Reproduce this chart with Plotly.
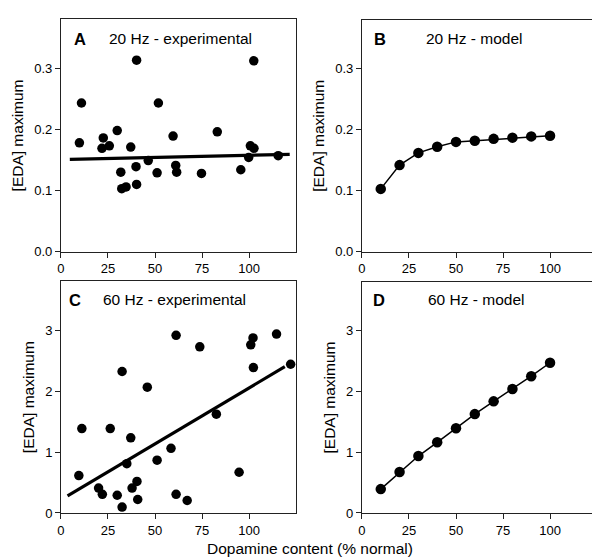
import plotly.graph_objects as go

# Panel A: 20 Hz experimental
a_x = [9.8, 10.9, 22.5, 21.8, 25.7, 29.9, 31.8, 32.3, 34.6, 37.1, 39.9, 40.2, 40.2, 46.4,
       51.1, 51.8, 59.6, 61.0, 61.5, 74.7, 83.1, 95.6, 99.8, 100.7, 102.6, 102.5, 115.5]
a_y = [0.178, 0.243, 0.186, 0.169, 0.173, 0.198, 0.130, 0.103, 0.106, 0.171, 0.139, 0.110, 0.313, 0.149,
       0.129, 0.243, 0.189, 0.141, 0.130, 0.128, 0.196, 0.134, 0.154, 0.173, 0.169, 0.312, 0.157]
a_fit_x = [4.7, 121.6]
a_fit_y = [0.151, 0.159]

# Panel B: 20 Hz model
model_x = [10, 20, 30, 40, 50, 60, 70, 80, 90, 100]
b_y = [0.103, 0.142, 0.162, 0.172, 0.180, 0.182, 0.185, 0.187, 0.189, 0.190]

# Panel C: 60 Hz experimental
c_x = [9.5, 11.1, 20.0, 22.0, 26.2, 29.9, 32.5, 32.5, 35.0, 37.1, 37.8, 40.4, 40.8, 45.9,
       51.1, 58.5, 61.2, 61.2, 67.1, 73.8, 82.6, 94.7, 100.9, 102.1, 102.3, 114.6, 122.1]
c_y = [0.614, 1.384, 0.409, 0.307, 1.384, 0.291, 0.097, 2.321, 0.808, 1.233, 0.409, 0.517, 0.221, 2.063,
       0.867, 1.061, 0.307, 2.914, 0.205, 2.725, 1.621, 0.668, 2.758, 2.871, 2.386, 2.935, 2.440]
c_fit_x = [3.5, 119.0]
c_fit_y = [0.28, 2.40]

# Panel D: 60 Hz model
d_y = [0.393, 0.673, 0.937, 1.163, 1.395, 1.627, 1.837, 2.041, 2.251, 2.472]

x_ticks = [0, 25, 50, 75, 100]
y_ticks_20 = [0.0, 0.1, 0.2, 0.3]
y_tick_text_20 = ["0.0", "0.1", "0.2", "0.3"]
y_ticks_60 = [0, 1, 2, 3]

panel_letters = ["A", "B", "C", "D"]
panel_titles = ["20 Hz - experimental", "20 Hz - model", "60 Hz - experimental", "60 Hz - model"]
y_title = "[EDA] maximum"
x_title = "Dopamine content (% normal)"

FONT = "Arial, Liberation Sans, sans-serif"
W, H = 600, 560

fig = go.Figure()

def px_x(p):
    return p / W

def px_y(p):
    return 1 - p / H

# axis domains (pixels)
doms = {
    1: ((49.3, 286.0), (11.3, 247.3)),
    2: ((352.3, 589.0), (12.0, 247.3)),
    3: ((49.3, 286.0), (277.3, 512.3)),
    4: ((352.3, 589.0), (278.0, 512.3)),
}

mk = dict(color="black", size=9.5)
fig.add_trace(go.Scatter(x=a_x, y=a_y, mode="markers", marker=mk, xaxis="x", yaxis="y"))
fig.add_trace(go.Scatter(x=a_fit_x, y=a_fit_y, mode="lines", line=dict(color="black", width=3.2),
                         xaxis="x", yaxis="y"))
fig.add_trace(go.Scatter(x=model_x, y=b_y, mode="lines+markers", marker=dict(color="black", size=10.5),
                         line=dict(color="black", width=1.5), xaxis="x2", yaxis="y2"))
fig.add_trace(go.Scatter(x=c_x, y=c_y, mode="markers", marker=mk, xaxis="x3", yaxis="y3"))
fig.add_trace(go.Scatter(x=c_fit_x, y=c_fit_y, mode="lines", line=dict(color="black", width=3.2),
                         xaxis="x3", yaxis="y3"))
fig.add_trace(go.Scatter(x=model_x, y=d_y, mode="lines+markers", marker=dict(color="black", size=10.5),
                         line=dict(color="black", width=1.5), xaxis="x4", yaxis="y4"))

axis_common = dict(showline=True, linecolor="#222", linewidth=1, mirror=True, ticks="outside",
                   ticklen=5, tickcolor="#222", showgrid=False, zeroline=False,
                   tickfont=dict(family=FONT, size=13, color="black"))

layout = dict(width=W, height=H, margin=dict(l=0, r=0, t=0, b=0), showlegend=False,
              plot_bgcolor="white", paper_bgcolor="white", font=dict(family=FONT, color="black"))

for i in range(1, 5):
    (x0, x1), (y0, y1) = doms[i]
    xs = "" if i == 1 else str(i)
    layout["xaxis" + xs] = dict(axis_common, domain=[px_x(x0), px_x(x1)], range=[0, 125],
                                tickvals=x_ticks, anchor="y" + xs)
    if i <= 2:
        ydict = dict(range=[0, 0.38], tickvals=y_ticks_20, ticktext=y_tick_text_20)
    else:
        ydict = dict(range=[0, 3.8], tickvals=y_ticks_60)
    layout["yaxis" + xs] = dict(axis_common, domain=[px_y(y1), px_y(y0)], anchor="x" + xs,
                                title=dict(text=y_title, font=dict(family=FONT, size=15.5, color="black"),
                                           standoff=6), **ydict)

fig.update_layout(**layout)

ann = []
letter_pos = [(68, 31), (370, 31), (63, 296), (369, 296)]
title_pos = [(169.5, 31), (465, 31), (163.5, 296), (467, 296)]
for i in range(4):
    lx, ly = letter_pos[i]
    ann.append(dict(text="<b>" + panel_letters[i] + "</b>", x=px_x(lx), y=px_y(ly), xref="paper", yref="paper",
                    showarrow=False, xanchor="center", yanchor="middle",
                    font=dict(family=FONT, size=16.5, color="black")))
    tx, ty = title_pos[i]
    ann.append(dict(text=panel_titles[i], x=px_x(tx), y=px_y(ty), xref="paper", yref="paper",
                    showarrow=False, xanchor="center", yanchor="middle",
                    font=dict(family=FONT, size=15.5, color="black")))
ann.append(dict(text=x_title, x=px_x(300), y=px_y(548), xref="paper", yref="paper", showarrow=False,
                xanchor="center", yanchor="middle", font=dict(family=FONT, size=15.5, color="black")))
fig.update_layout(annotations=ann)

fig.write_html("out.html")
